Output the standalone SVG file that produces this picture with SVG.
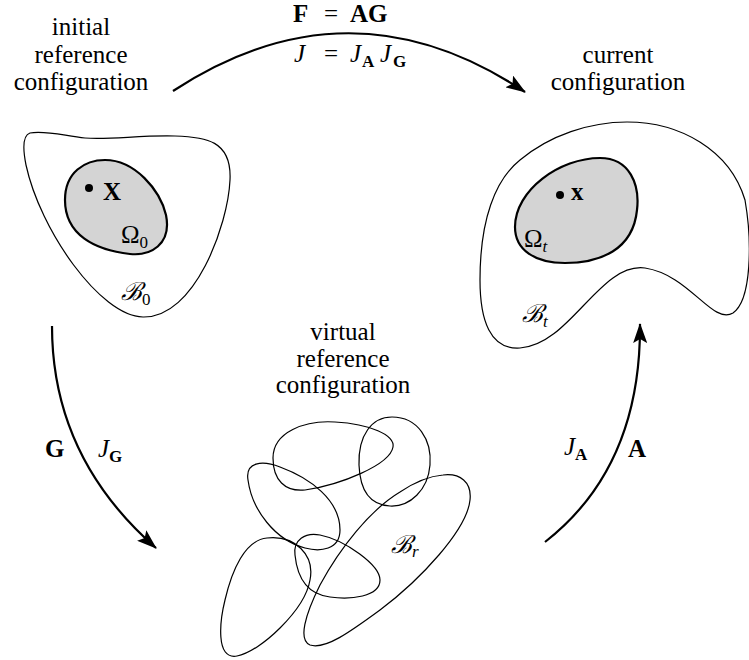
<svg xmlns="http://www.w3.org/2000/svg" width="749" height="660" viewBox="0 0 749 660">
<style>
text{font-size:25px;fill:#000}
.c{text-anchor:middle}
.b{font-weight:bold}
.i{font-style:italic}
.sub{font-size:17px}
.outer{fill:none;stroke:#000;stroke-width:1.2}
.inner{fill:#d4d4d4;stroke:#000;stroke-width:2.2}
.blob{fill:none;stroke:#000;stroke-width:1.2}
.arr{fill:none;stroke:#000;stroke-width:2.2}
</style>
<defs>
<marker id="ah" viewBox="0 0 20 14" refX="19" refY="7" markerWidth="20" markerHeight="14" markerUnits="userSpaceOnUse" orient="auto">
<path d="M0,0 L20,7 L0,14 L4,7 Z" fill="#000"/>
</marker>
</defs>
<g font-family="Liberation Serif, Times New Roman, DejaVu Serif, serif">
<g id="initial">
<text class="c" x="81" y="35">initial</text>
<text class="c" x="81" y="63">reference</text>
<text class="c" x="81" y="90">configuration</text>
<path class="outer" d="M30,133 C45,130 65,136 85,138 C110,140 140,135 175,136 C205,137 232,140 230,180 C228,225 195,318 143,317 C100,316 40,230 26,165 C22,145 24,135 30,133 Z"/>
<path class="inner" d="M65,200 C65,172 85,160 105,160 C135,160 160,190 166,215 C172,245 150,256 130,254 C95,250 65,235 65,200 Z"/>
<circle cx="89" cy="188" r="4" fill="#000"/>
<text class="b" x="103" y="200">X</text>
<text x="121" y="243">Ω<tspan class="sub" dy="5">0</tspan></text>
<text class="i" x="121" y="300">ℬ<tspan class="sub" dy="5" font-style="normal">0</tspan></text>
</g>

<g id="current">
<text class="c" x="618" y="63">current</text>
<text class="c" x="618" y="90">configuration</text>
<path class="outer" d="M627,122 C680,122 730,150 745,200 C752,240 752,300 733,313 C712,325 690,275 645,268 C600,262 570,345 520,348 C490,350 480,320 480,280 C480,220 495,180 520,160 C550,135 590,122 627,122 Z"/>
<path class="inner" d="M515,227 C515,190 560,158 600,158 C630,158 640,185 637,210 C633,250 600,263 565,263 C535,263 515,250 515,227 Z"/>
<circle cx="560" cy="195" r="4" fill="#000"/>
<text class="b" x="571" y="200" font-size="22">x</text>
<text x="524" y="247">Ω<tspan class="sub i" dy="5">t</tspan></text>
<text class="i" x="522" y="322">ℬ<tspan class="sub" dy="5">t</tspan></text>
</g>

<g id="virtual">
<text class="c" x="343" y="340">virtual</text>
<text class="c" x="343" y="367">reference</text>
<text class="c" x="343" y="393">configuration</text>
<path class="blob" d="M273,458 C273,432 305,420 335,422 C370,424 395,435 393,447 C390,465 340,485 305,490 C285,492 273,480 273,458 Z"/>
<path class="blob" d="M359,465 C358,435 372,417 392,417 C418,417 432,440 430,465 C428,490 410,507 390,506 C370,505 360,490 359,465 Z"/>
<path class="blob" d="M248,480 C245,462 262,460 280,467 C310,478 340,500 340,530 C340,550 320,552 305,548 C275,540 252,510 248,480 Z"/>
<path class="blob" d="M295,555 C293,540 305,532 320,535 C345,540 380,565 380,580 C380,597 350,600 330,597 C305,594 297,575 295,555 Z"/>
<path class="blob" d="M267,538 C295,535 315,555 310,580 C305,610 260,652 237,656 C215,660 220,620 225,600 C232,570 245,540 267,538 Z"/>
<path class="blob" d="M443,475 C460,473 472,482 470,500 C467,530 420,580 380,610 C350,632 325,650 310,645 C298,640 305,615 320,585 C340,548 370,510 400,492 C415,482 430,476 443,475 Z"/>
<text class="i" x="391" y="553">ℬ<tspan class="sub" dy="4">r</tspan></text>
</g>

<g id="connectors">
<path class="arr" d="M173,91 Q350,-25 525,92" marker-end="url(#ah)"/>
<text y="22"><tspan class="b" x="293">F</tspan><tspan x="324">=</tspan><tspan class="b" x="350">AG</tspan></text>
<text y="62"><tspan class="i" x="294">J</tspan><tspan x="324">=</tspan><tspan class="i" x="350">J</tspan><tspan class="sub b" x="362" dy="5">A</tspan><tspan class="i" x="380" dy="-5">J</tspan><tspan class="sub b" x="393" dy="5">G</tspan></text>
<path class="arr" d="M52,326 Q52,457 156,548" marker-end="url(#ah)"/>
<text class="b" x="45" y="457">G</text>
<text x="98" y="457"><tspan class="i">J</tspan><tspan class="sub b" dy="5">G</tspan></text>
<path class="arr" d="M545,542 Q641,467 640,324" marker-end="url(#ah)"/>
<text x="564" y="455"><tspan class="i">J</tspan><tspan class="sub b" dy="5">A</tspan></text>
<text class="b" x="628" y="457">A</text>
</g>
</g>
</svg>
